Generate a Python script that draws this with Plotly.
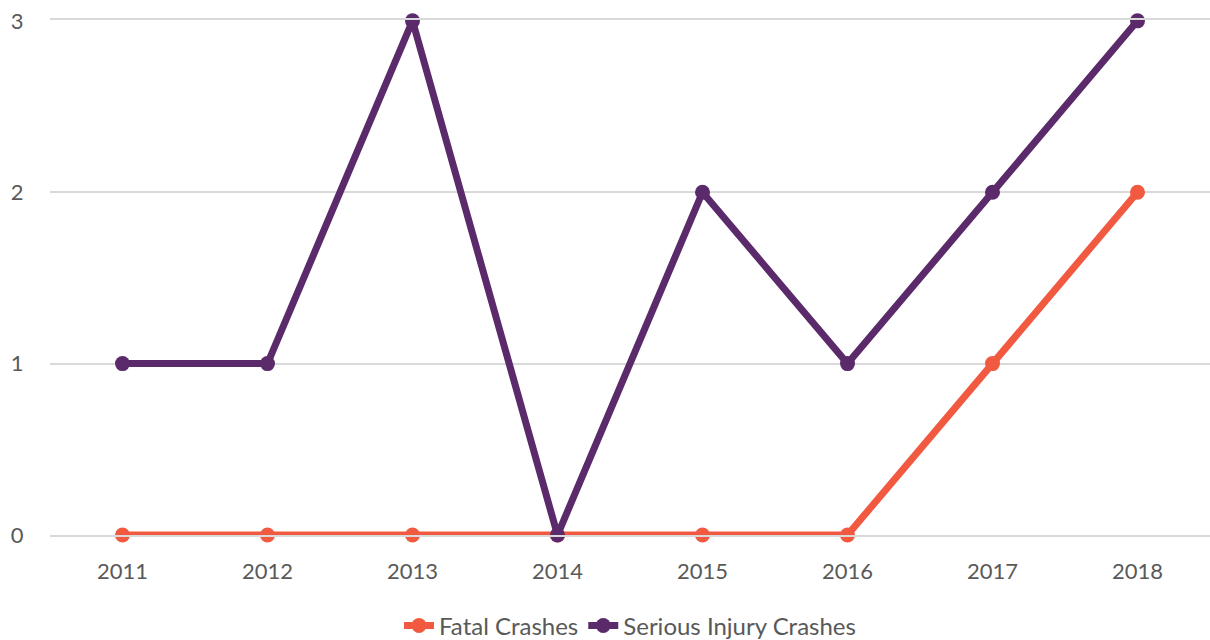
import plotly.graph_objects as go

years = ["2011", "2012", "2013", "2014", "2015", "2016", "2017", "2018"]
fatal = [0, 0, 0, 0, 0, 0, 1, 2]
serious = [1, 1, 3, 0, 2, 1, 2, 3]

FONT = "Lato, 'Open Sans', sans-serif"

fig = go.Figure()
fig.add_trace(go.Scatter(
    x=years, y=fatal, name="Fatal Crashes", mode="lines+markers",
    line=dict(color="#F15A41", width=7), marker=dict(size=15, color="#F15A41"),
    cliponaxis=False))
fig.add_trace(go.Scatter(
    x=years, y=serious, name="Serious Injury Crashes", mode="lines+markers",
    line=dict(color="#5A2A6A", width=7), marker=dict(size=15, color="#5A2A6A"),
    cliponaxis=False))

fig.update_layout(
    width=1210, height=640,
    margin=dict(l=50, r=0, t=20, b=105, autoexpand=False),
    paper_bgcolor="white", plot_bgcolor="white",
    font=dict(family=FONT, size=22, color="#595959"),
    showlegend=True,
    legend=dict(orientation="h", x=0.5, xanchor="center",
                yref="container", y=0.022, yanchor="middle",
                font=dict(size=24, color="#595959"), tracegroupgap=0),
    xaxis=dict(type="category", range=[-0.5, 7.5], showgrid=False, zeroline=False,
               showline=True, mirror=True, linecolor="#D9D9D9", linewidth=1.5,
               ticks="outside", ticklen=16, tickcolor="rgba(0,0,0,0)",
               tickfont=dict(size=22, color="#595959"), automargin=False),
    yaxis=dict(range=[0, 3.005], tickvals=[0, 1, 2, 3], showgrid=True,
               gridcolor="#D9D9D9", gridwidth=1.5,
               zeroline=False, showline=False, ticks="outside", ticklen=21,
               tickcolor="rgba(0,0,0,0)", tickfont=dict(size=22, color="#595959"),
               ticklabeloverflow="allow", automargin=False),
)

# remove the page's default 8px body margin so the figure fills the window
fig.write_html("out.html", config={"displayModeBar": False},
               post_script="document.body.style.margin='0';document.body.style.overflow='hidden';")
